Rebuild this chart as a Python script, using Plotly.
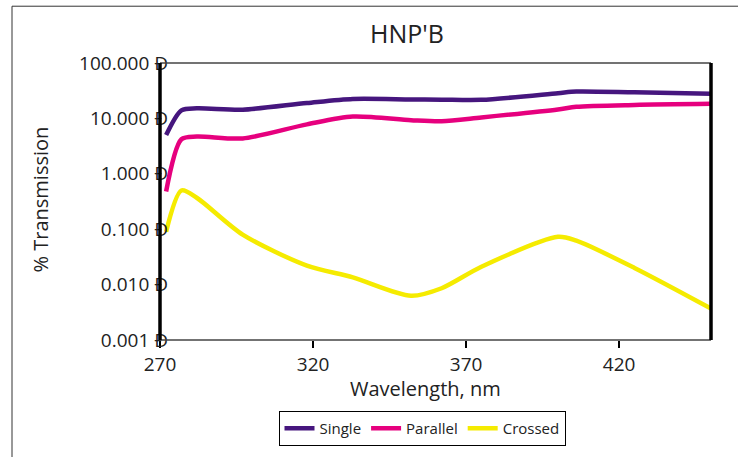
import plotly.graph_objects as go

wavelength = [272, 277, 282, 297, 318, 333, 352, 362, 375, 400, 406, 425, 450]
single = [5.0, 14.0, 15.2, 14.4, 19.0, 22.5, 22.0, 21.8, 21.6, 28.5, 30.5, 29.5, 27.8]
parallel = [0.48, 4.2, 4.7, 4.35, 7.8, 10.8, 9.3, 8.9, 10.4, 14.5, 16.2, 17.5, 18.3]
crossed = [0.09, 0.5, 0.37, 0.08, 0.022, 0.0135, 0.0063, 0.0086, 0.021, 0.073, 0.062, 0.02, 0.0037]

y_ticks = [0.001, 0.01, 0.1, 1, 10, 100]
y_ticktext = ["0.001 Ð", "0.010 Ð", "0.100 Ð", "1.000 Ð", "10.000 Ð", "100.000 Ð"]
x_ticks = [270, 320, 370, 420]

FONT = "Open Sans"
L, R, T, B = 160, 711, 63, 341
PW, PH = R - L, B - T


def px(x):
    return (x - L) / PW


def py(y):
    return (B - y) / PH


fig = go.Figure()
series = [("Single", single, "#46167E"), ("Parallel", parallel, "#E6007E"), ("Crossed", crossed, "#F5EB00")]
for name, vals, col in series:
    fig.add_trace(go.Scatter(x=wavelength, y=vals, name=name, mode="lines",
                             line=dict(color=col, width=4.5, shape="spline", smoothing=0.8)))

fig.update_layout(
    width=738, height=457,
    margin=dict(l=L, r=738 - R, t=T, b=457 - B),
    paper_bgcolor="white", plot_bgcolor="white",
    font=dict(family=FONT, color="#222222", size=19),
    showlegend=True,
    legend=dict(orientation="h", xref="paper", yref="paper", x=px(422), y=py(411),
                xanchor="center", yanchor="top", bordercolor="black", borderwidth=1,
                font=dict(size=15, family=FONT), itemwidth=30, tracegroupgap=0,
                bgcolor="white"),
    xaxis=dict(range=[270, 450], tickvals=x_ticks, ticks="outside", ticklen=7, tickwidth=2,
               tickcolor="black", showgrid=False, zeroline=False, showline=False,
               ticklabelstandoff=0, tickfont=dict(size=19, family=FONT)),
    yaxis=dict(type="log", range=[-3, 2], tickvals=y_ticks, ticktext=y_ticktext, ticks="",
               showgrid=False, zeroline=False, showline=False, ticklabelstandoff=-9,
               tickfont=dict(size=19, family=FONT)),
    shapes=[
        dict(type="rect", xref="paper", yref="paper", x0=px(12), x1=px(780), y0=py(500), y1=py(6),
             line=dict(color="#333333", width=1), layer="below"),
        dict(type="line", xref="paper", yref="paper", x0=0, x1=1, y0=1, y1=1,
             line=dict(color="#444444", width=1.5), layer="above"),
        dict(type="line", xref="paper", yref="paper", x0=0, x1=1, y0=0, y1=0,
             line=dict(color="#444444", width=1.5), layer="above"),
        dict(type="line", xref="paper", yref="paper", x0=0, x1=0, y0=0, y1=1,
             line=dict(color="black", width=3.5), layer="above"),
        dict(type="line", xref="paper", yref="paper", x0=1, x1=1, y0=0, y1=1,
             line=dict(color="black", width=3.5), layer="above"),
    ],
    annotations=[
        dict(text="HNP'B", xref="paper", yref="paper", x=px(407), y=py(33),
             xanchor="center", yanchor="middle", showarrow=False, font=dict(size=25, family=FONT)),
        dict(text="Wavelength, nm", xref="paper", yref="paper", x=px(425), y=py(390),
             xanchor="center", yanchor="middle", showarrow=False, font=dict(size=20, family=FONT)),
        dict(text="% Transmission", xref="paper", yref="paper", x=px(41), y=py(200),
             xanchor="center", yanchor="middle", showarrow=False, textangle=-90,
             font=dict(size=20, family=FONT)),
    ],
)

fig.write_html("out.html", config={"displayModeBar": False},
               post_script="document.body.style.margin='0px';")
